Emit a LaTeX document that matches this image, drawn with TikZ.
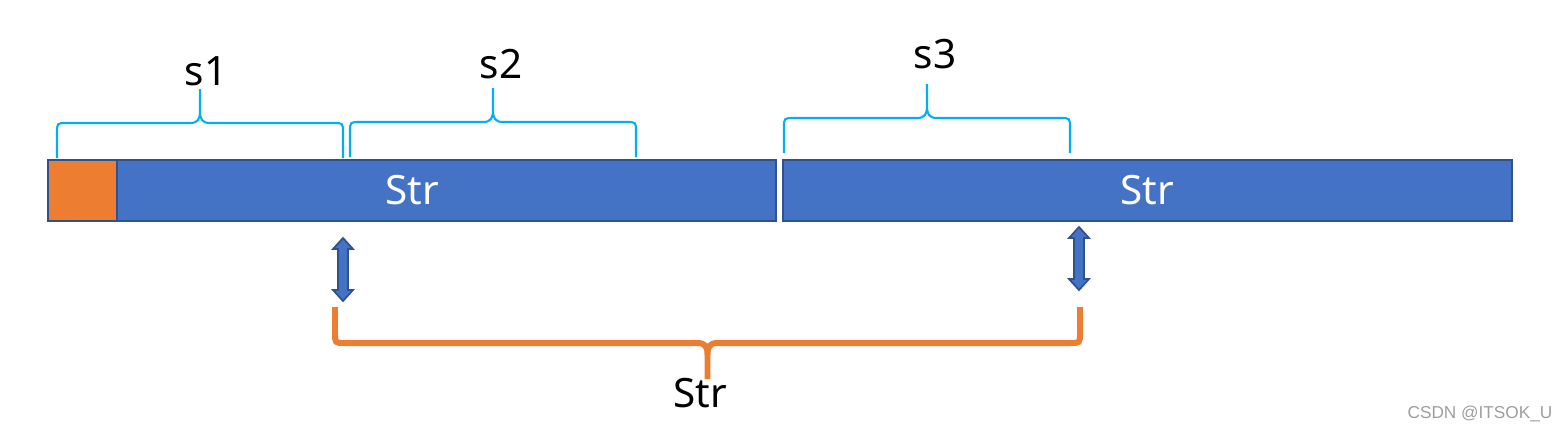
\documentclass[tikz,border=0pt]{standalone}
\usepackage{xcolor}
\usepackage{fontspec}
\setmainfont{Noto Sans}
\newfontfamily\markfont{Liberation Sans}
\usetikzlibrary{positioning}

\definecolor{barblue}{HTML}{4472C4}
\definecolor{barline}{HTML}{2F528F}
\definecolor{headorange}{HTML}{ED7D31}
\definecolor{bracecyan}{HTML}{00B0F0}

% curly brace: [style] x1, x2, y of the bar, y of the ends, y of the tip
\newcommand{\curlybrace}[6][]{%
  \pgfmathsetmacro\bs{sign(#5-#4)}%
  \pgfmathsetmacro\bm{(#2+#3)/2}%
  \draw[#1] (#2,#5) -- (#2,#4+10*\bs) .. controls (#2,#4) .. (#2+10,#4)
    -- (\bm-10,#4) .. controls (\bm-2,#4) and (\bm,#4-4*\bs) .. (\bm,#4-12*\bs)
    -- (\bm,#6)
    (\bm,#4-12*\bs) .. controls (\bm,#4-4*\bs) and (\bm+2,#4) .. (\bm+10,#4)
    -- (#3-10,#4) .. controls (#3,#4) .. (#3,#4+10*\bs) -- (#3,#5);
}

% up-down block arrow: x, y of top tip, y of bottom tip
\newcommand{\updown}[3]{%
  \filldraw[dblarrow] (#1,#2) -- (#1+10,#2+11) -- (#1+5,#2+11) -- (#1+5,#3-11)
    -- (#1+10,#3-11) -- (#1,#3) -- (#1-10,#3-11) -- (#1-5,#3-11)
    -- (#1-5,#2+11) -- (#1-10,#2+11) -- cycle;
}

\begin{document}
\begin{tikzpicture}[
    x=0.01cm, y=-0.01cm,
    font=\fontsize{11.5}{13}\selectfont,
    bar/.style={rectangle, draw=barline, fill=barblue, line width=0.6pt,
      minimum width=7.28cm, minimum height=0.61cm, inner sep=0pt, outer sep=0pt,
      text=white},
    headbox/.style={rectangle, draw=barline, fill=headorange, line width=0.6pt,
      minimum width=0.69cm, minimum height=0.61cm, inner sep=0pt, outer sep=0pt},
    thin brace/.style={draw=bracecyan, line width=0.6pt},
    thick brace/.style={draw=headorange, line width=1.7pt},
    dblarrow/.style={draw=barline, fill=barblue, line width=0.5pt, line join=miter},
    lbl/.style={inner sep=0pt, anchor=base}
]
\useasboundingbox (0,0) rectangle (1568,429);

% the two strings
\node[bar] (bar1) at (412,190.5) {Str};
\node[bar, right=0.07cm of bar1] (bar2) {Str};
\node[headbox, anchor=west] (head) at (bar1.west) {};

% substrings above
\curlybrace[thin brace]{57}{343}{123}{158}{89}
\curlybrace[thin brace]{350}{636}{122}{157}{88}
\curlybrace[thin brace]{784}{1070}{118}{153}{84}
\node[lbl] (s1) at (206,85) {s1};
\node[lbl] (s2) at (501,78) {s2};
\node[lbl] (s3) at (935,68) {s3};

% arrows down to the new string
\updown{343}{238}{301}
\updown{1079}{227}{290}

\curlybrace[thick brace]{335}{1080}{343}{307}{379}
\node[lbl] (res) at (700,407) {Str};

\node[lbl, font=\markfont\fontsize{4.9}{6}\selectfont, text=black!38] (mark) at (1480,418) {CSDN @ITSOK\_U};
\end{tikzpicture}
\end{document}
